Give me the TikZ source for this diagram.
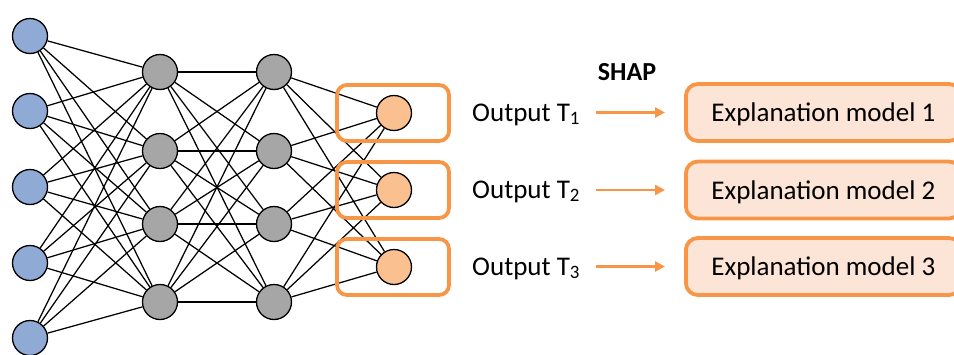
\documentclass[tikz,border=0pt]{standalone}
\usepackage{fontspec}
\setmainfont{Carlito}
\usetikzlibrary{arrows.meta}

\definecolor{inblue}{RGB}{143,170,212}
\definecolor{hidgray}{RGB}{166,166,166}
\definecolor{outorange}{RGB}{250,192,143}
\definecolor{shaporange}{RGB}{247,150,70}
\definecolor{explfill}{RGB}{252,229,214}

\begin{document}
\begin{tikzpicture}[x=1pt, y=-1pt,
    neuron/.style={circle, draw, line width=1.3pt, minimum size=35pt, inner sep=0pt},
    edge/.style={line width=1.25pt},
    outbox/.style={draw=shaporange, line width=3.8pt, rounded corners=10pt, minimum width=112pt, minimum height=56pt},
    explbox/.style={draw=shaporange, fill=explfill, line width=3.8pt, rounded corners=12pt,
        minimum width=275pt, minimum height=57pt, text depth=0pt, font=\fontsize{27}{32}\selectfont},
    lbl/.style={inner sep=0pt, anchor=base west, font=\fontsize{27}{32}\selectfont},
    arr/.style={-{Triangle[length=10pt,width=10pt]}, draw=shaporange, line width=2.6pt,
        shorten <=16pt, shorten >=19pt}]
    \useasboundingbox (0,0) rectangle (954,354);
    \clip (0,0) rectangle (954,354);

    % Input layer
    \node[neuron, fill=inblue] (i1) at (30,36) {};
    \node[neuron, fill=inblue] (i2) at (30,111) {};
    \node[neuron, fill=inblue] (i3) at (30,187) {};
    \node[neuron, fill=inblue] (i4) at (30,263) {};
    \node[neuron, fill=inblue] (i5) at (30,338) {};

    % Hidden layers
    \node[neuron, fill=hidgray] (h1) at (160,72) {};
    \node[neuron, fill=hidgray] (h2) at (160,151) {};
    \node[neuron, fill=hidgray] (h3) at (160,224) {};
    \node[neuron, fill=hidgray] (h4) at (160,302) {};
    \node[neuron, fill=hidgray] (g1) at (274,72) {};
    \node[neuron, fill=hidgray] (g2) at (274,151) {};
    \node[neuron, fill=hidgray] (g3) at (274,224) {};
    \node[neuron, fill=hidgray] (g4) at (274,302) {};

    % Output layer
    \node[neuron, fill=outorange] (o1) at (394,113) {};
    \node[neuron, fill=outorange] (o2) at (394,190) {};
    \node[neuron, fill=outorange] (o3) at (394,267) {};

    % Fully connected weights
    \foreach \a in {1,...,5} \foreach \b in {1,...,4} \draw[edge] (i\a) -- (h\b);
    \foreach \a in {1,...,4} \foreach \b in {1,...,4} \draw[edge] (h\a) -- (g\b);
    \foreach \a in {1,...,4} \foreach \b in {1,...,3} \draw[edge] (g\a) -- (o\b);

    % Boxes round each output
    \node[outbox] (ob1) at (393,113) {};
    \node[outbox] (ob2) at (393,190) {};
    \node[outbox] (ob3) at (393,267) {};

    % SHAP explanations
    \node[inner sep=0pt, anchor=base, font=\fontsize{26}{30}\selectfont\bfseries] (shap) at (627,80) {SHAP};
    \node[lbl] (t1) at (472,121) {Output T\textsubscript{1}};
    \node[lbl] (t2) at (472,198) {Output T\textsubscript{2}};
    \node[lbl] (t3) at (472,275) {Output T\textsubscript{3}};
    \node[explbox, anchor=west] (e1) at (684,112.5) {Explanation model 1};
    \node[explbox, anchor=west] (e2) at (684,190) {Explanation model 2};
    \node[explbox, anchor=west] (e3) at (684,266.5) {Explanation model 3};

    \draw[arr] (e1.west -| t1.east) -- (e1.west);
    \draw[arr] (e2.west -| t2.east) -- (e2.west);
    \draw[arr] (e3.west -| t3.east) -- (e3.west);
\end{tikzpicture}
\end{document}
